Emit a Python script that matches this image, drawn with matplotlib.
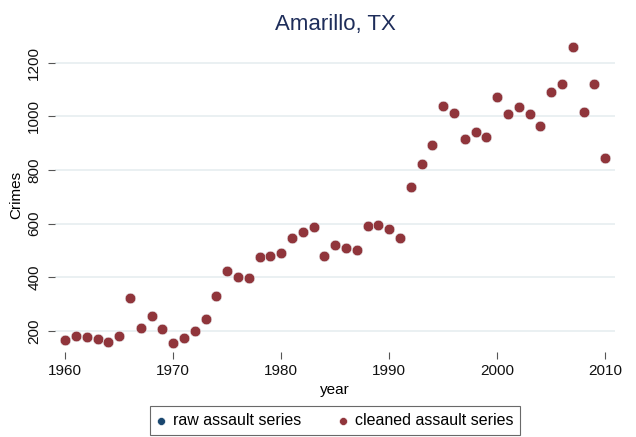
import matplotlib
matplotlib.use("Agg")
import matplotlib.pyplot as plt

years = list(range(1960, 2011))
cleaned = [168, 180, 178, 171, 158, 183, 322, 212, 258, 206,
           155, 174, 199, 245, 329, 425, 401, 398, 475, 481,
           490, 548, 569, 586, 480, 520, 509, 502, 591, 595,
           582, 546, 737, 821, 892, 1037, 1013, 916, 942, 922,
           1072, 1010, 1034, 1009, 963, 1092, 1119, 1258, 1015, 1119,
           845]
raw = list(cleaned)

xticks = [1960, 1970, 1980, 1990, 2000, 2010]
yticks = [200, 400, 600, 800, 1000, 1200]

plt.rcParams['font.family'] = ['Liberation Sans', 'DejaVu Sans']

fig = plt.figure(figsize=(6.36, 4.37), dpi=100)
ax = fig.add_axes([0.0865, 0.1945, 0.8805, 0.7185])

ax.scatter(years, raw, s=58, color='#1a476f', edgecolors='white', linewidths=0.4, zorder=3,
           label='raw assault series')
ax.scatter(years, cleaned, s=58, color='#90353b', edgecolors='white', linewidths=0.4, zorder=4,
           label='cleaned assault series')

ax.set_xlim(1959.05, 2010.9)
ax.set_ylim(122, 1292)
ax.set_xticks(xticks)
ax.set_yticks(yticks)
ax.set_yticklabels([str(v) for v in yticks], rotation=90, va='center')
ax.tick_params(axis='both', labelsize=11, colors='#555555', length=5, width=0.8, labelcolor='#111111')
ax.tick_params(axis='y', pad=5)
ax.grid(axis='y', color='#eaf0f2', linewidth=1.4)
ax.set_axisbelow(True)
for s in ax.spines.values():
    s.set_visible(False)

ax.set_xlabel('year', fontsize=11, labelpad=4)
ax.set_ylabel('Crimes', fontsize=11, labelpad=3)
ax.set_title('Amarillo, TX', fontsize=16, color='#1e2d5a', pad=6)

leg = fig.legend(loc='lower center', bbox_to_anchor=(0.527, 0.005), ncol=2, fontsize=11.5,
                 frameon=True, fancybox=False, edgecolor='#444444', handlelength=0.6,
                 handletextpad=0.45, columnspacing=2.3, borderpad=0.42, borderaxespad=0.0,
                 markerscale=0.75)
leg.get_frame().set_linewidth(0.8)

fig.savefig('out.png', dpi=100, facecolor='white')
